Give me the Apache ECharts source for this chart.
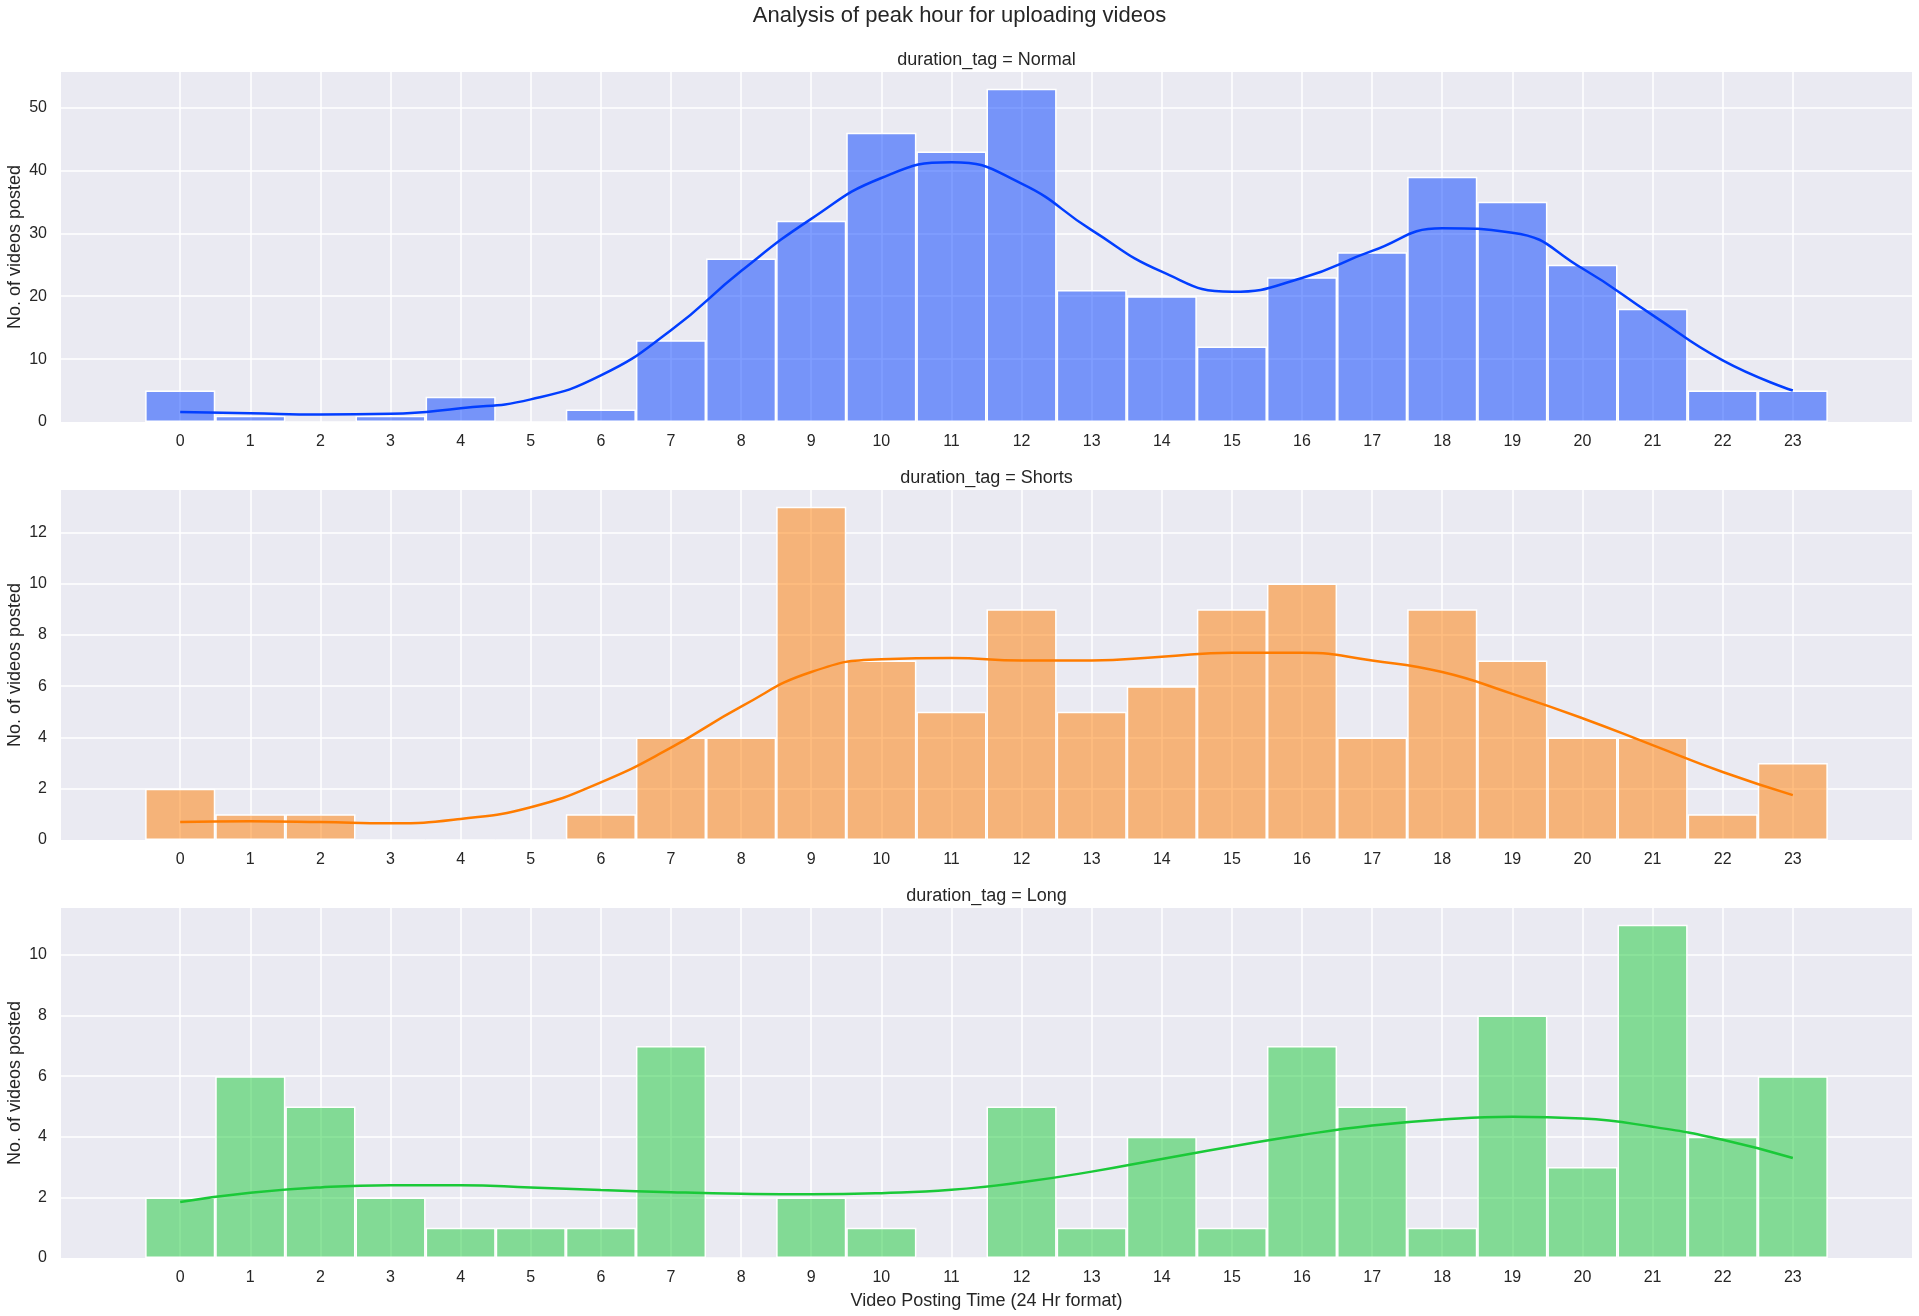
<!DOCTYPE html>
<html>
<head>
<meta charset="utf-8">
<title>Analysis of peak hour for uploading videos</title>
<script src="https://cdn.jsdelivr.net/npm/echarts@6/dist/echarts.min.js"></script>
<style>
    html, body { margin: 0; padding: 0; background: #fff; }
    #chart-hist-box { width: 1919px; height: 1316px; }
</style>
</head>
<body>
<div id="chart-hist-box"></div>
<script>
// hours of the day (x categories)
var hours = [0, 1, 2, 3, 4, 5, 6, 7, 8, 9, 10, 11, 12, 13, 14, 15, 16, 17, 18, 19, 20, 21, 22, 23];

// videos posted per hour
var normalCounts = [5, 1, 0, 1, 4, 0, 2, 13, 26, 32, 46, 43, 53, 21, 20, 12, 23, 27, 39, 35, 25, 18, 5, 5];
var shortsCounts = [2, 1, 1, 0, 0, 0, 1, 4, 4, 13, 7, 5, 9, 5, 6, 9, 10, 4, 9, 7, 4, 4, 1, 3];
var longCounts = [2, 6, 5, 2, 1, 1, 1, 7, 0, 2, 1, 0, 5, 1, 4, 1, 7, 5, 1, 8, 3, 11, 4, 6];

// kde curves at each hour
var normalKde = [1.6, 1.4, 1.2, 1.3, 2.2, 3.6, 7.4, 14.6, 24.0, 32.3, 38.8, 41.3, 37.9, 30.5, 23.9, 20.7, 22.9, 27.2, 30.8, 30.1, 24.4, 17.0, 9.8, 5.0];
var shortsKde = [0.7, 0.73, 0.7, 0.65, 0.82, 1.28, 2.25, 3.6, 5.2, 6.55, 7.05, 7.1, 7.0, 7.0, 7.15, 7.3, 7.3, 7.0, 6.55, 5.7, 4.75, 3.7, 2.65, 1.75];
var longKde = [1.85, 2.15, 2.33, 2.4, 2.4, 2.33, 2.24, 2.17, 2.12, 2.1, 2.14, 2.25, 2.5, 2.85, 3.27, 3.68, 4.06, 4.37, 4.57, 4.66, 4.6, 4.33, 3.9, 3.3];

var panelTitles = ['duration_tag = Normal', 'duration_tag = Shorts', 'duration_tag = Long'];
var yTickSteps = [10, 2, 2];

// layout / style
var chartWidth = 1919;
var gridLeft = 61;
var gridRight = 7;
var panelTops = [72, 490, 908];
var panelHeight = 350;
var plotCenter = gridLeft + (chartWidth - gridLeft - gridRight) / 2;
var fontFamily = "'Liberation Sans', Arial, sans-serif";
var textColor = '#262626';

var panels = [
    { title: panelTitles[0], counts: normalCounts, kde: normalKde, line: '#023eff', bar: 'rgba(2, 62, 255, 0.5)', step: yTickSteps[0] },
    { title: panelTitles[1], counts: shortsCounts, kde: shortsKde, line: '#ff7c00', bar: 'rgba(255, 124, 0, 0.5)', step: yTickSteps[1] },
    { title: panelTitles[2], counts: longCounts, kde: longKde, line: '#1ac938', bar: 'rgba(26, 201, 56, 0.5)', step: yTickSteps[2] }
];

var histChart = echarts.init(document.getElementById('chart-hist-box'));

var titles = [{
    text: 'Analysis of peak hour for uploading videos',
    left: 'center',
    top: 5,
    padding: 0,
    textStyle: { fontSize: 22, fontWeight: 'normal', color: textColor, fontFamily: fontFamily }
}];
var grids = [];
var xAxes = [];
var yAxes = [];
var series = [];

panels.forEach(function(p, i) {
    titles.push({
        text: p.title,
        left: plotCenter,
        top: panelTops[i] - 21,
        textAlign: 'center',
        padding: 0,
        textStyle: { fontSize: 18, fontWeight: 'normal', color: textColor, fontFamily: fontFamily }
    });

    grids.push({
        left: gridLeft,
        right: gridRight,
        top: panelTops[i],
        height: panelHeight,
        containLabel: false,
        outerBoundsMode: 'none',
        show: true,
        backgroundColor: '#eaeaf2',
        borderWidth: 0
    });

    xAxes.push({
        gridIndex: i,
        type: 'value',
        min: -1.7,
        max: 24.7,
        name: i === 2 ? 'Video Posting Time (24 Hr format)' : '',
        nameLocation: 'middle',
        nameGap: 34,
        nameMoveOverlap: false,
        nameTextStyle: { fontSize: 18, color: textColor, fontFamily: fontFamily },
        axisLine: { show: false },
        axisTick: { show: false, customValues: hours },
        axisLabel: { customValues: hours, fontSize: 16, color: textColor, fontFamily: fontFamily, margin: 12 },
        splitLine: { show: false }
    });

    yAxes.push({
        gridIndex: i,
        type: 'value',
        min: 0,
        max: Math.max.apply(null, p.counts) * 1.05,
        interval: p.step,
        name: 'No. of videos posted',
        nameLocation: 'middle',
        nameGap: 37,
        nameMoveOverlap: false,
        nameTextStyle: { fontSize: 18, color: textColor, fontFamily: fontFamily },
        axisLine: { show: false },
        axisTick: { show: false },
        axisLabel: { fontSize: 16, color: textColor, fontFamily: fontFamily, margin: 14, showMaxLabel: false },
        splitLine: {
            show: true,
            showMinLine: false,
            showMaxLine: false,
            lineStyle: { color: '#ffffff', width: 1.5 }
        }
    });

    // histogram bars (vertical grid lines ride along as a markLine under them)
    series.push({
        type: 'bar',
        xAxisIndex: i,
        yAxisIndex: i,
        barWidth: '100%',
        silent: true,
        z: 2,
        itemStyle: { color: p.bar, borderColor: '#ffffff', borderWidth: 1.5 },
        data: hours.map(function(h, k) { return [h, p.counts[k]]; }),
        markLine: {
            silent: true,
            z: 1,
            symbol: ['none', 'none'],
            label: { show: false },
            lineStyle: { color: '#ffffff', width: 1.5, type: 'solid' },
            emphasis: { disabled: true },
            data: hours.map(function(h) { return { xAxis: h }; })
        }
    });

    // kde curve
    series.push({
        type: 'line',
        xAxisIndex: i,
        yAxisIndex: i,
        smooth: 0.5,
        showSymbol: false,
        silent: true,
        z: 3,
        lineStyle: { color: p.line, width: 2.5 },
        data: hours.map(function(h, k) { return [h, p.kde[k]]; })
    });
});

var histOption = {
    animation: false,
    textStyle: { fontFamily: fontFamily },
    title: titles,
    grid: grids,
    xAxis: xAxes,
    yAxis: yAxes,
    series: series
};
histChart.setOption(histOption);
</script>
</body>
</html>
